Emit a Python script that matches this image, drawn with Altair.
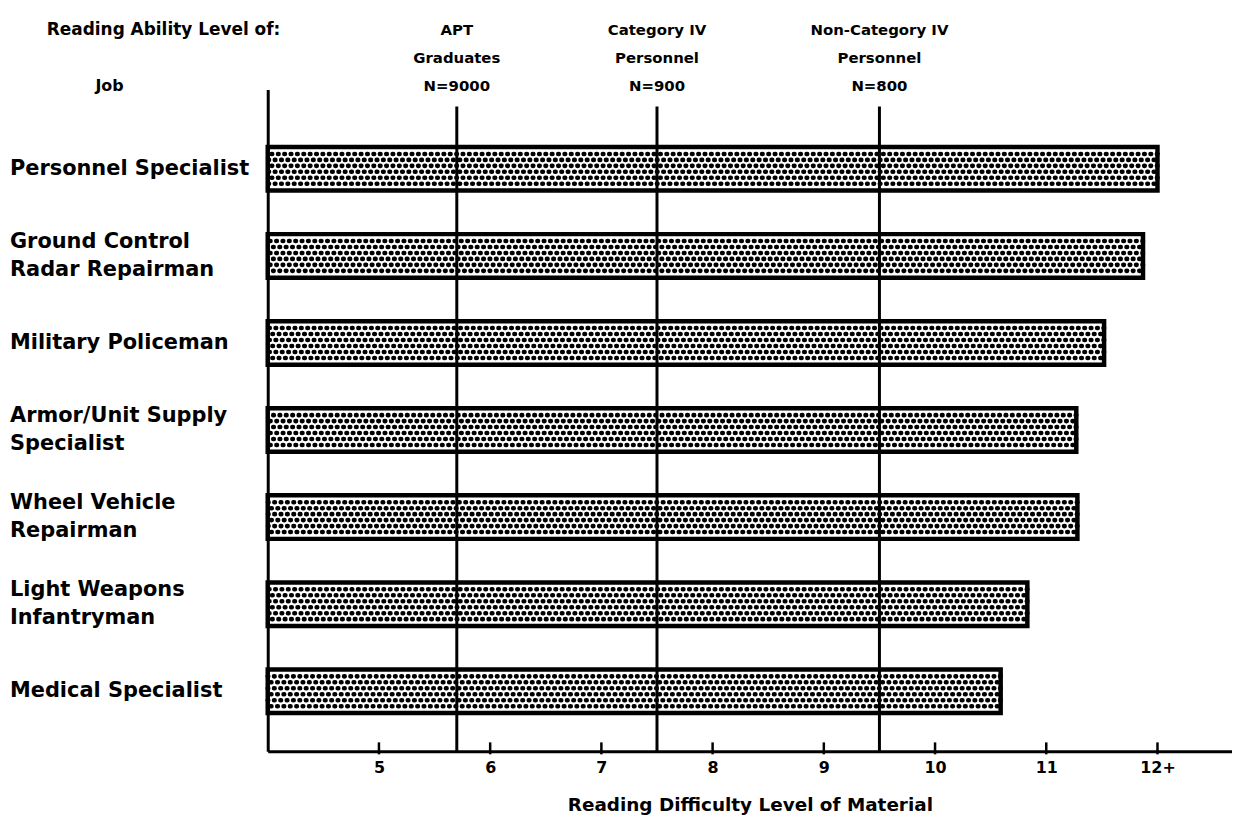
import altair as alt
import pandas as pd

# ---- data ----
jobs = [
    "Personnel Specialist",
    "Ground Control Radar Repairman",
    "Military Policeman",
    "Armor/Unit Supply Specialist",
    "Wheel Vehicle Repairman",
    "Light Weapons Infantryman",
    "Medical Specialist",
]
job_labels = [
    "Personnel Specialist",
    "Ground Control|Radar Repairman",
    "Military Policeman",
    "Armor/Unit Supply|Specialist",
    "Wheel Vehicle|\u2002Repairman",
    "Light Weapons|Infantryman",
    "Medical Specialist",
]
difficulty = [12.0, 11.87, 11.52, 11.27, 11.28, 10.83, 10.59]

group_labels = [
    "APT|Graduates|N=9000",
    "Category IV|Personnel|N=900",
    "Non-Category IV|Personnel|N=800",
]
ability = [5.7, 7.5, 9.5]

tick_values = [5, 6, 7, 8, 9, 10, 11, 12]
x_domain = [4, 12.67]

# ---- styling ----
FONT = "DejaVu Sans"
W, H = 969, 665
LINE_GAP = 14
HALF_BAND = 21.9  # offset marks sit at the band start; shift them to the bar middle

bars_df = pd.DataFrame({"job": jobs, "label": job_labels, "level": difficulty})
groups_df = pd.DataFrame({"label": group_labels, "level": ability})
ticks_df = pd.DataFrame({"level": tick_values})
corner_df = pd.DataFrame({"t": ["Reading Ability Level of:"]})
job_head_df = pd.DataFrame({"t": ["Job"]})

single_df = pd.DataFrame({"job": [j for j, l in zip(jobs, job_labels) if "|" not in l],
                          "t": [l for l in job_labels if "|" not in l]})
first_df = pd.DataFrame({"job": [j for j, l in zip(jobs, job_labels) if "|" in l],
                         "t": [l.split("|")[0] for l in job_labels if "|" in l]})
second_df = pd.DataFrame({"job": [j for j, l in zip(jobs, job_labels) if "|" in l],
                          "t": [l.split("|")[1] for l in job_labels if "|" in l]})

yscale = alt.Scale(paddingInner=0.5, paddingOuter=0.55, align=0.6)
xscale = alt.Scale(domain=x_domain, nice=False, zero=False)

Y = alt.Y("job:N", sort=jobs, scale=yscale,
          axis=alt.Axis(labels=False, ticks=False, title=None, grid=False,
                        domainColor="black", domainWidth=3))
X = alt.X("level:Q", scale=xscale,
          axis=alt.Axis(values=tick_values, ticks=False, grid=False,
                        labelExpr="datum.value == 12 ? '12+' : datum.value",
                        labelFont=FONT, labelFontWeight="bold", labelFontSize=16,
                        labelColor="black", labelPadding=8,
                        domainColor="black", domainWidth=3,
                        title="Reading Difficulty Level of Material",
                        titleFont=FONT, titleFontWeight="bold", titleFontSize=18.5,
                        titleColor="black", titlePadding=20))

bars = alt.Chart(bars_df).mark_bar(fill="white", stroke="black", strokeWidth=4.5).encode(
    x=X, x2=alt.datum(4), y=Y
)

layers = [bars]
dot_rows = [-15, -9, -3, 3, 9, 15]
for i, off in enumerate(dot_rows):
    layers.append(
        alt.Chart(bars_df).mark_rule(
            stroke="black", strokeWidth=4.6, strokeDash=[0.6, 5.8],
            strokeDashOffset=(3.2 if i % 2 else 0), strokeCap="round"
        ).encode(
            x=alt.X("level:Q"), x2=alt.datum(4),
            y=alt.Y("job:N", sort=jobs), yOffset=alt.value(off + HALF_BAND)
        )
    )

ref_lines = alt.Chart(groups_df).mark_rule(stroke="black", strokeWidth=3).encode(
    x=alt.X("level:Q"), y=alt.value(17), y2=alt.value(H)
)
ticks = alt.Chart(ticks_df).mark_rule(stroke="black", strokeWidth=2.5).encode(
    x=alt.X("level:Q"), y=alt.value(H - 9), y2=alt.value(H + 3)
)


def job_text(df, off):
    return alt.Chart(df).mark_text(
        align="left", baseline="middle",
        font=FONT, fontWeight="bold", fontSize=21, color="black"
    ).encode(
        y=alt.Y("job:N", sort=jobs), yOffset=alt.value(off + HALF_BAND),
        x=alt.value(-259), text="t:N"
    )


group_text = alt.Chart(groups_df).mark_text(
    align="center", baseline="middle", lineBreak="|", lineHeight=28,
    font=FONT, fontWeight="bold", fontSize=15, color="black"
).encode(
    x=alt.X("level:Q"), y=alt.value(-60), text="label:N"
)
corner_text = alt.Chart(corner_df).mark_text(
    align="left", baseline="middle", font=FONT, fontWeight="bold",
    fontSize=17, color="black"
).encode(x=alt.value(-222), y=alt.value(-60), text="t:N")
job_head = alt.Chart(job_head_df).mark_text(
    align="center", baseline="middle", font=FONT, fontWeight="bold",
    fontSize=16, color="black"
).encode(x=alt.value(-159), y=alt.value(-4), text="t:N")

layers += [ref_lines, ticks,
           job_text(single_df, 0), job_text(first_df, -LINE_GAP), job_text(second_df, LINE_GAP),
           group_text, corner_text, job_head]

chart = alt.layer(*layers).properties(
    width=W, height=H,
    background="white",
    autosize=alt.AutoSizeParams(type="none"),
    padding={"left": 261, "top": 80, "right": 0, "bottom": 64},
).configure_view(stroke=None)

chart.save("out.html", embed_options={"renderer": "svg", "actions": False})
